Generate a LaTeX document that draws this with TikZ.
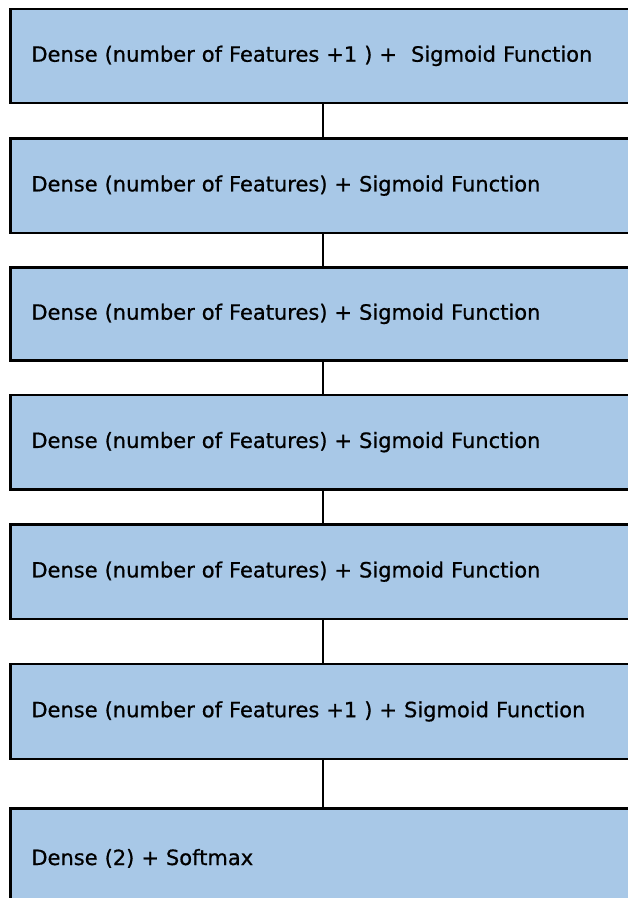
\documentclass[tikz,border=0pt]{standalone}
\usepackage{fontspec}
\setmainfont{DejaVu Sans}[FakeBold=0.6]
\newfontfamily\boxfont{DejaVu Sans}[FakeBold=0.7]
\definecolor{boxblue}{RGB}{168,200,231}
\begin{document}
\begin{tikzpicture}[x=1pt,y=-1pt,
  layerbox/.style={draw=black, line width=2.8pt, fill=boxblue, rectangle,
    anchor=north west, minimum width=640pt, text width=598pt, inner xsep=21pt,
    align=left, font=\boxfont\fontsize{21}{24}\selectfont},
  link/.style={draw=black, line width=2pt}]
\useasboundingbox (0,0) rectangle (628,898);
\fill[white] (0,0) rectangle (628,898);
\node[layerbox, minimum height=94pt] (b1) at (9,7.5) {Dense (number of Features +1 ) +\ \ Sigmoid Function};
\node[layerbox, minimum height=94.5pt] (b2) at (9,137) {Dense (number of Features) + Sigmoid Function};
\node[layerbox, minimum height=93pt] (b3) at (9,266) {Dense (number of Features) + Sigmoid Function};
\node[layerbox, minimum height=94.5pt] (b4) at (9,393.5) {Dense (number of Features) + Sigmoid Function};
\node[layerbox, minimum height=94.5pt] (b5) at (9,523) {Dense (number of Features) + Sigmoid Function};
\node[layerbox, minimum height=95pt] (b6) at (9,662.5) {Dense (number of Features +1 ) + Sigmoid Function};
\node[layerbox, minimum height=100pt] (b7) at (9,807) {Dense (2) + Softmax};
\foreach \a/\b in {b1/b2,b2/b3,b3/b4,b4/b5,b5/b6,b6/b7}{
  \draw[link] (\a.south -| 323,0) -- (\b.north -| 323,0);
}
\end{tikzpicture}
\end{document}
